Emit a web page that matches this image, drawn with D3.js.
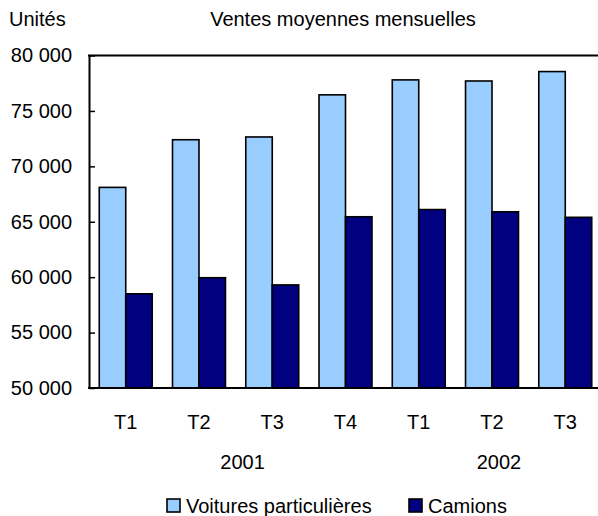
<!DOCTYPE html>
<html>
<head>
<meta charset="utf-8">
<script src="https://cdn.jsdelivr.net/npm/d3@7"></script>
<style>
  body { margin: 0; background: #fff; }
  svg { display: block; font-family: Arial, "Liberation Sans", sans-serif; }
</style>
</head>
<body>
<script>
// quarters and the two series (units, monthly average)
var quarters = ["T1", "T2", "T3", "T4", "T1", "T2", "T3"];
var voitures = [68100, 72400, 72650, 76450, 77800, 77700, 78550];
var camions = [58500, 59950, 59300, 65450, 66100, 65900, 65400];
var years = [ { label: "2001", from: 0, to: 3 }, { label: "2002", from: 4, to: 6 } ];
var yTicks = [50000, 55000, 60000, 65000, 70000, 75000, 80000];
var seriesNames = ["Voitures particulières", "Camions"];
var seriesColors = ["#99CCFF", "#000080"];

var width = 598, height = 516;
var plotLeft = 89, plotRight = 602, plotTop = 55.5, plotBottom = 388;

var svg = d3.select("body").append("svg")
  .attr("width", width)
  .attr("height", height);

var fr = d3.formatLocale({ decimal: ",", thousands: " ", grouping: [3], currency: ["", " $"] });

var x = d3.scaleBand()
  .domain(d3.range(quarters.length))
  .range([plotLeft, plotRight])
  .paddingInner(0.277)
  .paddingOuter(0.14);

var xs = d3.scaleBand()
  .domain([0, 1])
  .range([0, x.bandwidth()]);

var y = d3.scaleLinear()
  .domain([50000, 80000])
  .range([plotBottom, plotTop]);

// bars
var rows = quarters.map(function (q, i) { return { i: i, values: [voitures[i], camions[i]] }; });

var groups = svg.selectAll("g.grp")
  .data(rows)
  .enter()
  .append("g")
  .attr("class", "grp")
  .attr("transform", function (d) { return "translate(" + x(d.i) + ",0)"; });

groups.selectAll("rect")
  .data(function (d) { return d.values; })
  .enter()
  .append("rect")
  .attr("x", function (d, k) { return xs(k); })
  .attr("y", function (d) { return y(d); })
  .attr("width", xs.bandwidth())
  .attr("height", function (d) { return plotBottom - y(d); })
  .style("fill", function (d, k) { return seriesColors[k]; })
  .style("stroke", "#000")
  .style("stroke-width", 1.6);

// y axis, ticks pointing inwards
var yAxis = svg.append("g")
  .attr("transform", "translate(" + plotLeft + ",0)")
  .call(d3.axisLeft(y).tickValues(yTicks).tickFormat(fr.format(",")).tickSize(-6).tickSizeOuter(0).tickPadding(17));
yAxis.select(".domain").attr("stroke-width", 2);
yAxis.selectAll(".tick line").attr("stroke-width", 1.5);
yAxis.selectAll("text").style("font-size", "20px").attr("fill", "#000");

// top frame line and baseline
svg.append("line")
  .attr("x1", plotLeft - 1).attr("x2", width)
  .attr("y1", plotTop).attr("y2", plotTop)
  .attr("stroke", "#000").attr("stroke-width", 2);

var xAxis = svg.append("g")
  .attr("transform", "translate(0," + plotBottom + ")")
  .call(d3.axisBottom(x).tickFormat(function (i) { return quarters[i]; }).tickSize(0).tickPadding(27));
xAxis.select(".domain").remove();
xAxis.selectAll("text").style("font-size", "20px").attr("fill", "#000");
svg.append("line")
  .attr("x1", plotLeft - 1).attr("x2", width)
  .attr("y1", plotBottom).attr("y2", plotBottom)
  .attr("stroke", "#000").attr("stroke-width", 2);

// year labels under the quarters
svg.selectAll("text.year")
  .data(years)
  .enter()
  .append("text")
  .attr("class", "year")
  .attr("x", function (d) { return (x(d.from) + x(d.to) + x.bandwidth()) / 2 + 7; })
  .attr("y", 469)
  .attr("text-anchor", "middle")
  .style("font-size", "20px")
  .text(function (d) { return d.label; });

// titles
svg.append("text").attr("x", 9).attr("y", 26).style("font-size", "20px").text("Unités");
svg.append("text").attr("x", 343).attr("y", 26).attr("text-anchor", "middle")
  .style("font-size", "20px").text("Ventes moyennes mensuelles");

// legend
var legendX = [167, 409];
var legend = svg.selectAll("g.leg")
  .data(seriesNames)
  .enter()
  .append("g")
  .attr("class", "leg")
  .attr("transform", function (d, i) { return "translate(" + legendX[i] + ",499)"; });
legend.append("rect")
  .attr("width", 13).attr("height", 13)
  .style("fill", function (d, i) { return seriesColors[i]; })
  .style("stroke", "#000").style("stroke-width", 1.6);
legend.append("text")
  .attr("x", 19).attr("y", 14)
  .style("font-size", "20px")
  .text(function (d) { return d; });
</script>
</body>
</html>
